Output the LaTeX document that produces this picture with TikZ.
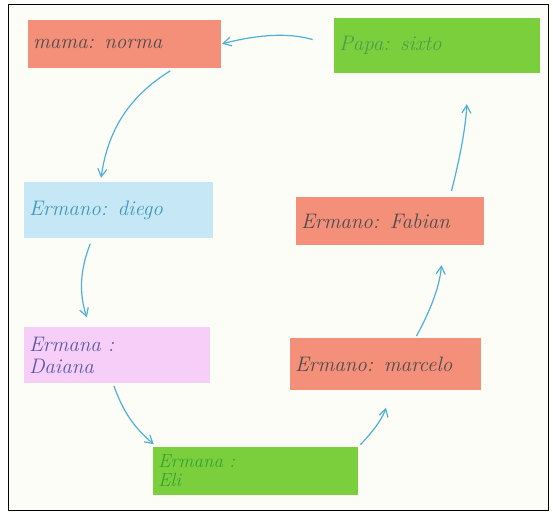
\documentclass[tikz,border=0pt]{standalone}
\usepackage{xcolor}
\usepackage{tikz}
\usetikzlibrary{arrows.meta, positioning}
\definecolor{mysalmon}{RGB}{244,143,122}
\definecolor{mygreen}{RGB}{124,207,60}
\definecolor{mysky}{RGB}{198,232,246}
\definecolor{mypink}{RGB}{246,206,248}
\definecolor{mypaper}{RGB}{253,253,248}
\definecolor{myline}{RGB}{78,176,214}
\tikzstyle{card} = [rectangle, inner sep=5pt, text width=#1, align=left, font=\fontsize{21}{22}\selectfont\itshape]
\tikzstyle{arrow} = [line width=1.2pt, myline, -{Straight Barb[angle=60:9pt]}]

\begin{document}
\begin{tikzpicture}[x=1pt,y=1pt]
\useasboundingbox (0,0) rectangle (553,514);
\fill[white] (0,0) rectangle (553,514);
\draw[fill=mypaper,line width=1pt] (8,4) rectangle (548,509);

\node[card=183pt, fill=mysalmon, minimum width=193pt, minimum height=48pt, text=black!70] (mama) at (124.5,470) {mama: norma};
\node[card=196pt, fill=mygreen, minimum width=206pt, minimum height=55pt, text=green!45!black!70] (papa) at (437,468.5) {Papa: sixto};
\node[card=179pt, fill=mysky, minimum width=189pt, minimum height=56pt, text=myline!85!black] (diego) at (118.5,304) {Ermano: diego};
\node[card=176pt, fill=mypink, minimum width=186pt, minimum height=56pt, text=blue!30!gray] (daiana) at (117,159) {Ermana :\\Daiana};
\node[card=195pt, fill=mygreen, minimum width=205pt, minimum height=48pt, text=green!55!black!80, inner sep=3pt, font=\fontsize{19}{19}\selectfont\itshape] (eli) at (255.5,43) {Ermana :\\Eli};
\node[card=181pt, fill=mysalmon, minimum width=191pt, minimum height=52pt, text=black!70] (marcelo) at (385.5,150) {Ermano: marcelo};
\node[card=178pt, fill=mysalmon, minimum width=188pt, minimum height=48pt, text=black!70] (fabian) at (390,293) {Ermano: Fabian};

\draw[arrow, shorten <=22pt, shorten >=1pt] (papa.west) to[bend right=15] (mama.east);
\draw[arrow, shorten <=5pt, shorten >=4pt] ([xshift=50pt]mama.south) to[bend right=25] ([xshift=-18pt]diego.north);
\draw[arrow, shorten <=6pt, shorten >=10pt] ([xshift=-26pt]diego.south) to[bend right=20] ([xshift=-27pt]daiana.north);
\draw[arrow, shorten <=3pt, shorten >=4pt] ([xshift=-4pt]daiana.south) to[bend right=15] ([xshift=4pt]eli.north west);
\draw[arrow, shorten <=3pt, shorten >=18pt] (eli.north east) to[bend right=15] ([xshift=5pt]marcelo.south);
\draw[arrow, shorten <=2pt, shorten >=20pt] ([xshift=30pt]marcelo.north) to[bend right=12] ([xshift=53pt]fabian.south);
\draw[arrow, shorten <=6pt, shorten >=31pt] ([xshift=60pt]fabian.north) to[bend right=6] ([xshift=31pt]papa.south);
\end{tikzpicture}
\end{document}
